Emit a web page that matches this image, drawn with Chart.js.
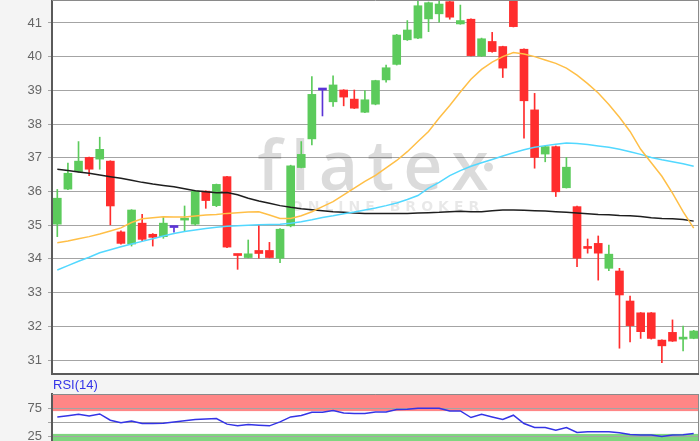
<!DOCTYPE html>
<html>
<head>
<meta charset="utf-8">
<script src="https://cdn.jsdelivr.net/npm/chart.js@4.4.0/dist/chart.umd.min.js"></script>
<style>
  html, body { margin: 0; padding: 0; background: #f4f4f4; overflow: hidden; }
  #wrap { position: relative; width: 700px; height: 441px; overflow: hidden; }
  #priceChart { position: absolute; left: 0; top: 0; }
  #rsiChart { position: absolute; left: 0; top: 376px; }
  #rsiLabel {
    position: absolute; left: 53px; top: 377px; z-index: 2;
    font: 13px "Liberation Sans", Arial, sans-serif; color: #3535e8;
  }
</style>
</head>
<body>
<div id="wrap">
  <canvas id="priceChart" width="700" height="376"></canvas>
  <canvas id="rsiChart" width="700" height="76"></canvas>
  <div id="rsiLabel">RSI(14)</div>
</div>
<script>
// daily candles, oldest first
const openPrices = [35.03, 36.07, 36.59, 37.01, 36.96, 36.90, 34.80, 34.44, 35.06, 34.73,
  34.66, 34.93, 35.15, 35.03, 36.01, 35.58, 36.44, 34.13, 34.04, 34.25,
  34.25, 34.02, 34.98, 36.71, 37.56, 39.01, 38.66, 39.01, 38.74, 38.35,
  38.59, 39.31, 39.77, 40.50, 40.55, 41.12, 41.27, 41.63, 40.97, 41.11,
  40.02, 40.45, 40.30, 42.00, 40.22, 38.42, 37.11, 37.33, 36.11, 35.55,
  34.36, 34.46, 33.72, 33.64, 32.75, 32.40, 32.40, 31.59, 31.82, 31.62, 31.64];
const highPrices = [36.06, 36.84, 37.48, 37.02, 37.61, 36.91, 34.83, 35.46, 35.32, 34.75,
  35.23, 34.93, 35.57, 36.03, 36.02, 36.22, 36.45, 34.14, 34.56, 35.01,
  34.49, 34.90, 36.78, 37.48, 39.41, 39.01, 39.43, 39.02, 39.01, 38.99,
  39.30, 39.75, 40.66, 41.07, 41.75, 41.62, 41.70, 41.64, 41.53, 41.12,
  40.55, 40.72, 40.31, 42.05, 40.23, 38.91, 37.35, 37.35, 37.01, 35.57,
  34.59, 34.68, 34.41, 33.72, 32.90, 32.41, 32.41, 31.60, 32.19, 32.01, 31.88];
const lowPrices = [34.66, 36.05, 36.57, 36.47, 36.66, 35.01, 34.44, 34.38, 34.54, 34.38,
  34.61, 34.79, 34.81, 35.00, 35.50, 35.55, 34.33, 33.69, 34.03, 34.02,
  34.03, 33.89, 34.95, 36.70, 37.38, 38.24, 38.52, 38.54, 38.46, 38.34,
  38.57, 39.24, 39.75, 40.48, 40.53, 40.74, 41.02, 41.11, 40.96, 40.02,
  40.00, 40.13, 39.38, 40.88, 37.58, 36.69, 36.88, 35.85, 36.10, 33.77,
  34.17, 33.37, 33.65, 31.35, 31.54, 31.64, 31.62, 30.92, 31.55, 31.27, 31.63];
const closePrices = [35.80, 36.54, 36.90, 36.66, 37.25, 35.57, 34.46, 35.45, 34.58, 34.64,
  35.06, 34.93, 35.20, 36.01, 35.73, 36.21, 34.35, 34.10, 34.15, 34.16,
  34.04, 34.88, 36.76, 37.10, 38.88, 39.01, 39.16, 38.80, 38.47, 38.72,
  39.29, 39.67, 40.64, 40.79, 41.51, 41.60, 41.56, 41.17, 41.07, 40.03,
  40.53, 40.15, 39.66, 40.89, 38.69, 37.01, 37.33, 35.99, 36.72, 34.02,
  34.31, 34.17, 34.14, 32.93, 32.02, 31.84, 31.64, 31.42, 31.56, 31.66, 31.86];

// moving averages
const maShort = [34.48, 34.53, 34.60, 34.66, 34.74, 34.83, 34.92, 35.08, 35.19, 35.22,
  35.25, 35.24, 35.24, 35.27, 35.30, 35.32, 35.35, 35.37, 35.39, 35.40,
  35.30, 35.20, 35.20, 35.28, 35.40, 35.55, 35.70, 35.90, 36.10, 36.30,
  36.48, 36.70, 36.92, 37.18, 37.48, 37.78, 38.18, 38.55, 38.95, 39.33,
  39.62, 39.84, 40.00, 40.12, 40.08, 40.00, 39.90, 39.80, 39.66, 39.45,
  39.20, 38.92, 38.58, 38.20, 37.78, 37.25, 36.85, 36.45, 35.95, 35.40, 34.91];
const maMid = [33.67, 33.80, 33.93, 34.05, 34.18, 34.27, 34.36, 34.44, 34.52, 34.60,
  34.68, 34.75, 34.81, 34.86, 34.90, 34.94, 34.97, 34.98, 35.00, 35.01,
  35.02, 35.03, 35.06, 35.10, 35.16, 35.23, 35.28, 35.34, 35.39, 35.45,
  35.51, 35.58, 35.66, 35.76, 35.88, 36.10, 36.27, 36.47, 36.62, 36.75,
  36.85, 36.95, 37.05, 37.15, 37.24, 37.31, 37.36, 37.40, 37.44, 37.42,
  37.39, 37.35, 37.31, 37.25, 37.18, 37.10, 37.01, 36.94, 36.88, 36.82, 36.75];
const maLong = [36.66, 36.62, 36.58, 36.54, 36.49, 36.44, 36.39, 36.33, 36.27, 36.22,
  36.18, 36.14, 36.08, 36.02, 35.99, 35.96, 35.97, 35.90, 35.80, 35.72,
  35.65, 35.58, 35.53, 35.49, 35.46, 35.43, 35.40, 35.38, 35.36, 35.35,
  35.35, 35.35, 35.35, 35.35, 35.36, 35.37, 35.38, 35.40, 35.41, 35.40,
  35.40, 35.43, 35.45, 35.45, 35.44, 35.43, 35.42, 35.40, 35.38, 35.36,
  35.34, 35.32, 35.31, 35.29, 35.28, 35.26, 35.22, 35.20, 35.19, 35.17, 35.12];

const rsiValues = [59.8, 62.0, 64.5, 61.6, 65.0, 54.0, 49.4, 52.8, 48.3, 48.3,
  48.8, 51.0, 53.0, 55.2, 56.0, 57.0, 47.1, 44.1, 46.6, 45.3,
  44.1, 51.1, 59.8, 62.3, 68.0, 68.0, 71.0, 66.5, 65.7, 65.7,
  68.5, 68.5, 72.7, 73.2, 75.0, 75.0, 75.0, 70.3, 70.3, 58.7,
  64.5, 59.8, 55.2, 62.8, 48.3, 41.3, 41.3, 36.6, 41.3, 32.6,
  33.6, 33.6, 33.6, 31.9, 29.1, 27.9, 27.9, 25.6, 27.9, 28.5, 30.8];

const priceTicks = [31, 32, 33, 34, 35, 36, 37, 38, 39, 40, 41];
const rsiTicks = [25, 50, 75];
const overbought = [70, 100];
const oversold = [0, 30];

const days = openPrices.map((_, i) => "T" + (i + 1));

const UP = "#5ccb5c";
const DOWN = "#ff2d2d";
const FLAT = "#5b33d6";
const labelFont = { family: "'Liberation Sans', Arial, sans-serif", size: 13 };

function candleColor(i) {
  if (closePrices[i] > openPrices[i]) return UP;
  if (closePrices[i] < openPrices[i]) return DOWN;
  return FLAT;
}

const candleColors = days.map((_, i) => candleColor(i));

// grey page, white plot area
const panelBackground = {
  id: "panelBackground",
  beforeDraw(chart, args, opts) {
    const { ctx, chartArea: a } = chart;
    ctx.save();
    ctx.fillStyle = "#f4f4f4";
    ctx.fillRect(0, 0, chart.width, chart.height);
    ctx.fillStyle = "#ffffff";
    ctx.fillRect(a.left, a.top, a.right - a.left, a.bottom - a.top);
    if (opts.bands) {
      const y = chart.scales.y;
      for (const band of opts.bands) {
        ctx.fillStyle = band.color;
        const top = y.getPixelForValue(band.range[1]);
        const bottom = y.getPixelForValue(band.range[0]);
        ctx.fillRect(a.left, top, a.right - a.left, bottom - top);
      }
    }
    ctx.restore();
  },
  afterDraw(chart) {
    const { ctx, chartArea: a } = chart;
    ctx.save();
    ctx.strokeStyle = "#8a8a8a";
    ctx.lineWidth = 1;
    ctx.beginPath();
    ctx.moveTo(a.right - 0.5, a.top);
    ctx.lineTo(a.right - 0.5, a.bottom);
    ctx.moveTo(a.left, a.top + 0.5);
    ctx.lineTo(a.right, a.top + 0.5);
    ctx.stroke();
    ctx.strokeStyle = "#5a5a5a";
    ctx.lineWidth = 2;
    ctx.beginPath();
    ctx.moveTo(a.left, a.bottom);
    ctx.lineTo(a.right, a.bottom);
    ctx.stroke();
    ctx.restore();
  }
};

const watermark = {
  id: "watermark",
  beforeDatasetsDraw(chart) {
    const { ctx, chartArea: a } = chart;
    const cx = (a.left + a.right) / 2;
    ctx.save();
    ctx.fillStyle = "rgba(0, 0, 0, 0.14)";
    ctx.font = "600 68px 'Open Sans'";
    ctx.letterSpacing = "9px";
    ctx.textAlign = "center";
    ctx.fillText("flatex", cx + 2, a.top + 190);
    ctx.beginPath();
    ctx.arc(cx + 113, a.top + 167, 4.5, 0, Math.PI * 2);
    ctx.fill();
    ctx.fillStyle = "rgba(0, 0, 0, 0.09)";
    ctx.font = "bold 14px 'DejaVu Sans'";
    ctx.letterSpacing = "5px";
    ctx.fillText("ONLINE BROKER", cx + 12, a.top + 211);
    ctx.restore();
  }
};

function valueAxis(min, max, ticks, labelCb) {
  return {
    min: min,
    max: max,
    afterBuildTicks: (scale) => {
      scale.ticks = ticks.map((v) => ({ value: v }));
    },
    afterFit: (scale) => {
      scale.width = 52;
      scale.paddingTop = 0;
      scale.paddingBottom = 0;
    },
    ticks: {
      color: "#666",
      font: labelFont,
      padding: 6,
      callback: labelCb || ((v) => v)
    },
    grid: { color: "#a4a4a4", lineWidth: 1, tickLength: 4 },
    border: { color: "#5a5a5a", width: 2 }
  };
}

new Chart(document.getElementById("priceChart"), {
  type: "bar",
  data: {
    labels: days,
    datasets: [
      {
        type: "line", data: maShort, borderColor: "#ffbf47",
        borderWidth: 1.5, pointRadius: 0, order: 0
      },
      {
        type: "line", data: maMid, borderColor: "#52d8ff",
        borderWidth: 1.5, pointRadius: 0, order: 0
      },
      {
        type: "line", data: maLong, borderColor: "#1e1e1e",
        borderWidth: 1.5, pointRadius: 0, order: 0
      },
      {
        // candle bodies
        data: openPrices.map((o, i) => [o, closePrices[i]]),
        backgroundColor: candleColors,
        barThickness: 8, minBarLength: 2, grouped: false, order: 1
      },
      {
        // wicks
        data: lowPrices.map((l, i) => [l, highPrices[i]]),
        backgroundColor: candleColors,
        barThickness: 1, grouped: false, order: 2
      }
    ]
  },
  options: {
    responsive: false,
    animation: false,
    layout: { padding: { top: 0, right: 1, bottom: 2, left: 0 } },
    plugins: {
      legend: { display: false },
      tooltip: { enabled: false },
      panelBackground: {}
    },
    scales: {
      x: { display: false, offset: true },
      y: valueAxis(30.585, 41.68, priceTicks)
    }
  },
  plugins: [panelBackground, watermark]
});

new Chart(document.getElementById("rsiChart"), {
  type: "line",
  data: {
    labels: days,
    datasets: [{
      data: rsiValues, borderColor: "#3434e6",
      borderWidth: 1.5, pointRadius: 0
    }]
  },
  options: {
    responsive: false,
    animation: false,
    layout: { padding: { top: 18, right: 1, bottom: 1, left: 0 } },
    plugins: {
      legend: { display: false },
      tooltip: { enabled: false },
      panelBackground: {
        bands: [
          { range: overbought, color: "#ff8686" },
          { range: oversold, color: "#7fd67f" }
        ]
      }
    },
    scales: {
      x: { display: false, offset: true },
      y: valueAxis(0, 100, rsiTicks, (v) => (v === 50 ? "" : v))
    }
  },
  plugins: [panelBackground]
});
</script>
</body>
</html>
